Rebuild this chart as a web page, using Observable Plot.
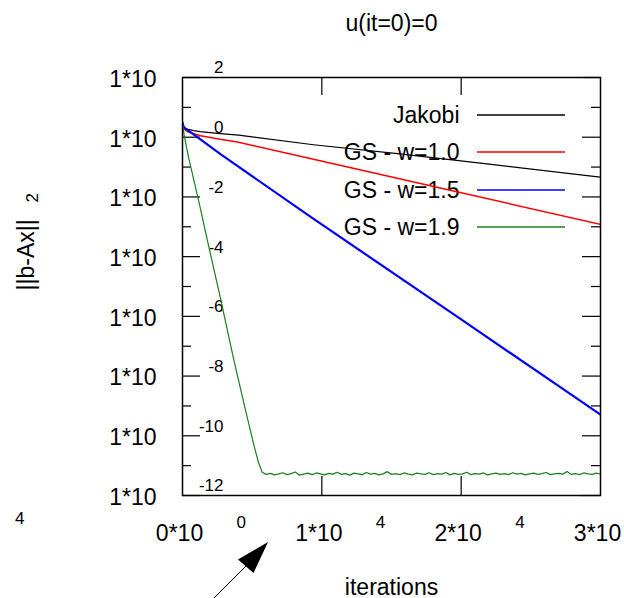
<!DOCTYPE html>
<html>
<head>
<meta charset="utf-8">
<script src="https://cdn.jsdelivr.net/npm/d3@7"></script>
<script src="https://cdn.jsdelivr.net/npm/@observablehq/plot@0.6"></script>
<style>
  html, body { margin: 0; padding: 0; background: white; }
  #chart { width: 624px; height: 598px; overflow: hidden; }
</style>
</head>
<body>
<div id="chart"></div>
<script>
// ---------- data ----------
const titleText = "u(it=0)=0";
const xTitle = "iterations";
const yTitle = "||b-Ax||";
const yTitleSub = "2";

const seriesNames = ["Jakobi", "GS - w=1.0", "GS - w=1.5", "GS - w=1.9"];
const seriesColors = ["#000000", "#ff0000", "#0000ff", "#1a801a"];
const seriesWidths = [1.2, 1.5, 2.2, 1.2];

const jakobiIter = [0, 70, 200, 430, 800, 1290, 2500, 4020, 9400, 15600, 22000, 30000];
const jakobiRes  = [2.88, 2.29, 2.0, 1.82, 1.66, 1.55, 1.35, 1.17, 0.56, 0.275, 0.126, 0.0457];

const gs10Iter = [0, 70, 200, 430, 1290, 2500, 4020, 9400, 20000, 30000];
const gs10Res  = [2.88, 2.14, 1.74, 1.48, 1.12, 0.89, 0.68, 0.182, 0.0138, 0.0012];

const gs15Iter = [0, 70, 215, 600, 2727, 9330, 20000, 30000];
const gs15Res  = [3.09, 2.24, 1.95, 1.45, 0.27, 0.00195, 7.9e-7, 5.1e-10];

const gs19Iter = [0, 120, 430, 1170, 1866, 2727, 3683, 4500, 5119, 5450, 5718,
  6000, 6300, 6600, 6900, 7200, 7500, 7800, 8100, 8400, 8700,
  9000, 9300, 9600, 9900, 10200, 10500, 10800, 11100, 11400, 11700,
  12000, 12300, 12600, 12900, 13200, 13500, 13800, 14100, 14400, 14700,
  15000, 15300, 15600, 15900, 16200, 16500, 16800, 17100, 17400, 17700,
  18000, 18300, 18600, 18900, 19200, 19500, 19800, 20100, 20400, 20700,
  21000, 21300, 21600, 21900, 22200, 22500, 22800, 23100, 23400, 23700,
  24000, 24300, 24600, 24900, 25200, 25500, 25800, 26100, 26400, 26700,
  27000, 27300, 27600, 27900, 28200, 28500, 28800, 29100, 29400, 29700,
  30000];
const gs19Res = [2.88, 1.15, 0.214, 0.0071, 2.4e-4, 3.98e-6, 3.5e-8, 7.9e-10, 5.0e-11, 1.3e-11, 6.0e-12,
  5.1e-12, 5.5e-12, 4.9e-12, 5.3e-12, 5.8e-12, 5.0e-12, 5.4e-12, 6.1e-12, 4.8e-12, 5.2e-12,
  5.6e-12, 5.0e-12, 5.7e-12, 5.3e-12, 4.9e-12, 5.5e-12, 5.2e-12, 6.0e-12, 5.1e-12, 5.4e-12,
  4.8e-12, 5.6e-12, 5.3e-12, 5.0e-12, 5.9e-12, 5.2e-12, 5.5e-12, 4.9e-12, 5.3e-12, 6.3e-12,
  5.1e-12, 5.4e-12, 5.0e-12, 5.7e-12, 5.2e-12, 4.9e-12, 5.6e-12, 5.3e-12, 5.1e-12, 5.8e-12,
  5.0e-12, 5.4e-12, 5.2e-12, 5.9e-12, 4.9e-12, 5.5e-12, 5.1e-12, 5.3e-12, 6.0e-12, 5.0e-12,
  5.4e-12, 5.2e-12, 5.7e-12, 4.9e-12, 5.3e-12, 5.6e-12, 5.1e-12, 5.4e-12, 5.0e-12, 5.8e-12,
  5.2e-12, 5.5e-12, 4.9e-12, 5.3e-12, 5.6e-12, 5.1e-12, 5.4e-12, 5.9e-12, 5.0e-12, 5.3e-12,
  5.5e-12, 5.2e-12, 6.4e-12, 5.1e-12, 5.4e-12, 5.0e-12, 5.7e-12, 5.3e-12, 5.1e-12, 5.6e-12,
  5.2e-12];

// axis ticks / labels
const yMajorExp = [2, 0, -2, -4, -6, -8, -10, -12];
const yMinorExp = [1, -1, -3, -5, -7, -9, -11];
const xInnerTicks = [10000, 20000];
const xTicks = [0, 10000, 20000, 30000];
const xMantissa = ["0", "1", "2", "3"];
const xExponent = ["0", "4", "4", "4"];
const strayExponent = "4";

// ---------- build tables ----------
const toRows = (name, its, vals) => its.map((it, i) => ({name, it, r: vals[i]}));
const rows = [
  ...toRows(seriesNames[0], jakobiIter, jakobiRes),
  ...toRows(seriesNames[1], gs10Iter, gs10Res),
  ...toRows(seriesNames[2], gs15Iter, gs15Res),
  ...toRows(seriesNames[3], gs19Iter, gs19Res)
];
const yMajor = yMajorExp.map(e => ({v: 10 ** e, e}));
const yMinor = yMinorExp.map(e => ({v: 10 ** e, e}));
const xLab = xTicks.map((v, i) => ({v, m: xMantissa[i], e: xExponent[i]}));

const FONT = "'Liberation Sans', Arial, Helvetica, sans-serif";
const BIG = 23, SMALL = 17;
const T = {fill: "black", lineAnchor: "middle"};

const lineMarks = seriesNames.map((n, i) =>
  Plot.line(rows.filter(d => d.name === n), {
    x: "it", y: "r", stroke: seriesColors[i], strokeWidth: seriesWidths[i], clip: true
  })
);

// legend rows: label right-aligned, offsets from the frame's top-left
const legendDy = [38, 75, 113, 150];
const legendTextMarks = seriesNames.map((n, i) =>
  Plot.text([n], {text: d => d, frameAnchor: "top-left", dx: 277, dy: legendDy[i],
    textAnchor: "end", fontSize: BIG, ...T})
);

const plot = Plot.plot({
  width: 624,
  height: 598,
  marginLeft: 182,
  marginRight: 24,
  marginTop: 77,
  marginBottom: 103,
  style: {fontFamily: FONT, background: "white", overflow: "visible"},
  x: {domain: [0, 30000], axis: null},
  y: {type: "log", domain: [1e-12, 1e2], axis: null},
  marks: [
    // y ticks (inward, left and right)
    Plot.tickY(yMajor, {y: "v", insetRight: 400, stroke: "black", strokeWidth: 1.2}),
    Plot.tickY(yMajor, {y: "v", insetLeft: 400, stroke: "black", strokeWidth: 1.2}),
    Plot.tickY(yMinor, {y: "v", insetRight: 409, stroke: "black", strokeWidth: 1.2}),
    Plot.tickY(yMinor, {y: "v", insetLeft: 409, stroke: "black", strokeWidth: 1.2}),
    // x ticks (inward, top and bottom)
    Plot.tickX(xInnerTicks, {x: d => d, insetBottom: 400, stroke: "black", strokeWidth: 1.2}),
    Plot.tickX(xInnerTicks, {x: d => d, insetTop: 399, stroke: "black", strokeWidth: 1.2}),
    // y tick labels "1*10" and exponents
    Plot.text(yMajor, {y: "v", text: () => "1*10", frameAnchor: "left", dx: -26, dy: 2,
      textAnchor: "end", fontSize: BIG, ...T}),
    Plot.text(yMajor, {y: "v", text: d => String(d.e), frameAnchor: "left", dx: 41, dy: -9.5,
      textAnchor: "end", fontSize: SMALL, ...T}),
    // x tick labels and exponents
    Plot.text(xLab, {x: "v", text: d => d.m + "*10", frameAnchor: "bottom", dx: -3, dy: 38,
      fontSize: BIG, ...T}),
    Plot.text(xLab, {x: "v", text: "e", frameAnchor: "bottom", dx: 63.5, dy: 27,
      textAnchor: "end", fontSize: SMALL, ...T}),
    Plot.text([strayExponent], {text: d => d, frameAnchor: "bottom-left", dx: -158, dy: 23,
      textAnchor: "end", fontSize: SMALL, ...T}),
    // titles
    Plot.text([titleText], {text: d => d, frameAnchor: "top", dy: -54, fontSize: BIG, ...T}),
    Plot.text([xTitle], {text: d => d, frameAnchor: "bottom", dy: 92, fontSize: BIG, ...T}),
    Plot.text([yTitle], {text: d => d, frameAnchor: "left", dx: -156, dy: 4, rotate: -90,
      fontSize: BIG, ...T}),
    Plot.text([yTitleSub], {text: d => d, frameAnchor: "left", dx: -150, dy: -84, rotate: -90,
      fontSize: SMALL, ...T}),
    ...legendTextMarks,
    ...lineMarks,
    Plot.frame({stroke: "black", strokeWidth: 1.5})
  ]
});

document.getElementById("chart").appendChild(plot);

// legend swatch lines + arrow annotation
const svg = d3.select(plot);
const legendRowsY = legendDy.map(d => 77 + d);
const lg = svg.append("g");
seriesNames.forEach((n, i) => {
  lg.append("line")
    .attr("x1", 477).attr("x2", 565)
    .attr("y1", legendRowsY[i]).attr("y2", legendRowsY[i])
    .attr("stroke", seriesColors[i]).attr("stroke-width", 1.5);
});
const ag = svg.append("g");
ag.append("line").attr("x1", 212).attr("y1", 600).attr("x2", 247).attr("y2", 565)
  .attr("stroke", "black").attr("stroke-width", 1);
ag.append("path").attr("d", "M268,542 L238,559.5 L253.5,573 Z").attr("fill", "black");
</script>
</body>
</html>
